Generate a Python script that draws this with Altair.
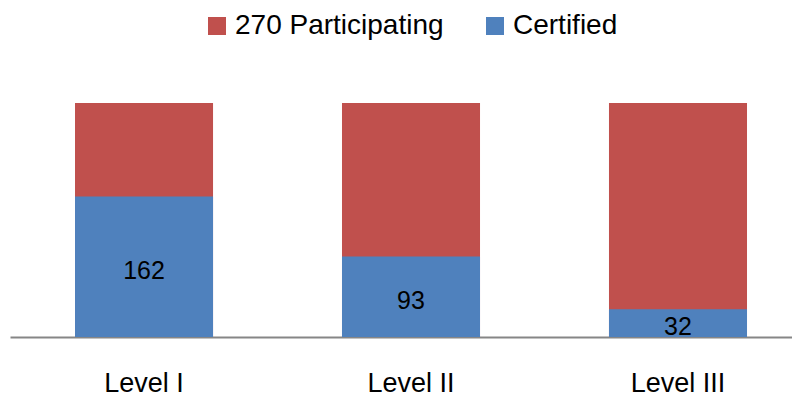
import altair as alt
import pandas as pd

levels = ["Level I", "Level II", "Level III"]
participating = [270, 270, 270]
certified = [162, 93, 32]
series_names = ["270 Participating", "Certified"]
series_colors = ["#C0504D", "#4F81BD"]

rows = []
for lv, p in zip(levels, participating):
    rows.append({"level": lv, "series": series_names[0], "value": p})
for lv, c in zip(levels, certified):
    rows.append({"level": lv, "series": series_names[1], "value": c})
df = pd.DataFrame(rows)

FONT = "Liberation Sans"

x = alt.X(
    "level:N",
    sort=levels,
    scale=alt.Scale(paddingInner=0.483, paddingOuter=0.206, align=0.591),
    axis=alt.Axis(
        title=None, labelAngle=0, ticks=False, domainColor="#868686",
        domainWidth=2, labelFontSize=27, labelFont=FONT, labelColor="black",
        labelPadding=33,
    ),
)
y = alt.Y("value:Q", stack=None,
          scale=alt.Scale(domain=[0, 270], nice=False, zero=True), axis=None)

bars = alt.Chart(df).mark_bar().encode(
    x=x,
    y=y,
    color=alt.Color(
        "series:N",
        scale=alt.Scale(domain=series_names, range=series_colors),
        legend=alt.Legend(
            title=None, orient="none", legendX=193, legendY=-91,
            direction="horizontal", symbolType="square", symbolSize=324,
            symbolStrokeWidth=0, labelFontSize=28, labelFont=FONT,
            labelColor="black", labelOffset=4, columnPadding=37, padding=0,
            labelLimit=500,
        ),
    ),
    order=alt.Order("order:Q"),
).transform_calculate(order="datum.series == 'Certified' ? 1 : 0")

labels = alt.Chart(df).transform_filter(
    alt.datum.series == "Certified"
).transform_calculate(mid="datum.value / 2").mark_text(
    fontSize=25, font=FONT, color="black", baseline="middle", dy=4
).encode(
    x=alt.X("level:N", sort=levels),
    y=alt.Y("mid:Q"),
    text=alt.Text("value:Q"),
)

chart = alt.layer(bars, labels).properties(
    width=782, height=234,
    padding={"left": 2, "top": 95, "right": 0, "bottom": 59},
    autosize=alt.AutoSizeParams(type="none"),
).configure_view(stroke=None)

chart.save("out.html", embed_options={"renderer": "svg", "actions": False})
